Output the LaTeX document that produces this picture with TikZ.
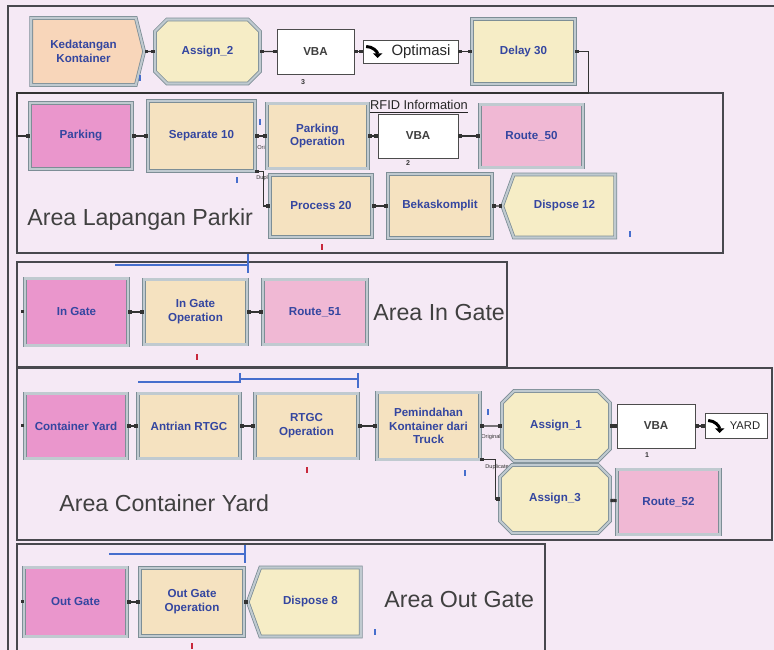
\documentclass[tikz,border=0pt]{standalone}
\usepackage{fontspec}
\setmainfont{Liberation Sans}
\usepackage{tikz}
\usetikzlibrary{calc, positioning, arrows.meta, shapes.misc, shapes.symbols}
\definecolor{Colfondo}{RGB}{245,233,245}
\definecolor{Colstn}{RGB}{234,150,204}
\definecolor{Colrte}{RGB}{240,184,212}
\definecolor{Colprc}{RGB}{245,226,192}
\definecolor{Colasg}{RGB}{246,237,198}
\definecolor{Colcrt}{RGB}{248,214,186}
\definecolor{Colbrd}{RGB}{125,142,150}
\definecolor{Colbrd2}{RGB}{192,202,208}
\definecolor{Coltxt}{RGB}{52,70,160}
\definecolor{Colarea}{RGB}{72,72,78}
\definecolor{Colblu}{RGB}{70,110,205}
\definecolor{Colred}{RGB}{200,40,60}

\begin{document}
\begin{tikzpicture}[
  mod/.style  ={rectangle, draw=Colbrd, line width=0.45pt,
                double=Colbrd2, double distance=1.2pt,
                minimum width=2.06cm, minimum height=1.30cm,
                align=center, text=Coltxt,
                font=\fontsize{6.6}{7.8}\selectfont\bfseries},
  stn/.style  ={mod, fill=Colstn},
  rte/.style  ={mod, fill=Colrte},
  prc/.style  ={mod, fill=Colprc},
  dly/.style  ={mod, fill=Colasg},
  asg/.style  ={mod, chamfered rectangle, chamfered rectangle sep=0.12cm,
                fill=Colasg},
  crt/.style  ={mod, signal, signal to=east, signal pointer angle=152,
                fill=Colcrt},
  dsp/.style  ={mod, signal, signal to=west, signal pointer angle=140,
                fill=Colasg},
  vba/.style  ={rectangle, draw=black!70, thin, fill=white,
                minimum width=1.56cm, minimum height=0.88cm,
                text=black!75, font=\fontsize{6.6}{7.8}\selectfont\bfseries},
  sta/.style  ={rectangle, draw=black!70, thin, fill=white,
                text=black!85, inner sep=0pt},
  lbl/.style  ={anchor=west, inner sep=0pt, text=black!75,
                font=\fontsize{13.2}{15}\selectfont},
  area/.style ={draw=Colarea, line width=0.8pt},
  con/.style  ={{Square[length=1.8pt,width=1.8pt]}-{Square[length=1.8pt,width=1.8pt]},
                semithick, color=black!80},
  icn/.style  ={line width=1.7pt, black, -{Triangle[length=2.6pt,width=5.2pt]}},
  blu/.style  ={draw=Colblu, line width=0.6pt},
  bmk/.style  ={rectangle, fill=Colblu, inner sep=0pt,
                minimum width=0.045cm, minimum height=0.12cm},
  rmk/.style  ={bmk, fill=Colred},
  ent/.style  ={rectangle, fill=black!80, inner sep=0pt, minimum size=0.06cm},
  num/.style  ={inner sep=0pt, text=black!80,
                font=\fontsize{4}{4}\selectfont\bfseries},
  tag/.style  ={anchor=west, inner sep=0pt, text=black!80,
                font=\fontsize{3.2}{3.2}\selectfont},
]

\path[use as bounding box, fill=Colfondo] (0,0) rectangle (15.48,13);

%% ═══════════════ Marcos ═══════════════
\draw[area] (0.16,0) -- (0.16,12.88) -- (15.48,12.88);
\draw[area] (0.34,7.94) rectangle (14.46,11.14);
\draw[area] (0.34,5.66) rectangle (10.14,7.76);
\draw[area] (0.34,2.20) rectangle (15.44,5.64);
\draw[area] (0.34,-0.10) |- (10.90,2.12) -- (10.90,-0.10);

%% ═══════════════ Kedatangan ═══════════════
\node[crt] (KK)  at (1.67, 11.97) [minimum width=2.26cm, minimum height=1.34cm]
  {Kedatangan\\Kontainer};
\node[asg] (A2)  at (4.15, 11.97) [minimum width=2.10cm, minimum height=1.28cm] {Assign\_2};
\node[vba] (V3)  at (6.31, 11.97) [minimum width=1.54cm, minimum height=0.90cm] {VBA};
\node[sta] (OP)  at (8.21, 11.97) [minimum width=1.90cm, minimum height=0.46cm,
  font=\fontsize{8.5}{9}\selectfont] {\hspace*{0.42cm}Optimasi};
\node[dly] (D30) at (10.47, 11.97) {Delay 30};

\draw[icn] ($(OP.west)+(0.07,0.10)$) to[out=0, in=90] ($(OP.west)+(0.30,-0.13)$);

\draw[con] (KK)  -- (A2);
\draw[con] (A2)  -- (V3);
\draw[con] (V3)  -- (OP);
\draw[con] (OP)  -- (D30);

\node[bmk] (mKK) at (2.80, 11.44) {};
\node[num] (nV3) at (6.06, 11.36) {3};

%% ═══════════════ Area Lapangan Parkir ═══════════════
\node[stn] (PK)  at (1.62, 10.28) [minimum width=2.04cm, minimum height=1.32cm] {Parking};
\node[tag] (tO1) at (5.14, 10.04) {Original};
\node[tag] (tD1) at (5.12, 9.44) {Duplicate};
\node[prc] (S10) at (4.03, 10.28) [minimum width=2.14cm, minimum height=1.40cm] {Separate 10};
\node[prc] (PO)  at (6.35, 10.28) [minimum width=2.02cm] {Parking\\Operation};
\node[vba] (V2)  at (8.36, 10.28) [minimum width=1.60cm] {VBA};
\node[rte] (R50) at (10.63, 10.28) [minimum height=1.26cm] {Route\_50};
\node[prc] (P20) at (6.42, 8.88) [minimum width=2.04cm, minimum height=1.24cm] {Process 20};
\node[prc] (BK)  at (8.80, 8.88) [minimum width=2.08cm, minimum height=1.28cm] {Bekaskomplit};
\node[dsp] (D12) at (11.29, 8.88) [minimum width=2.26cm, minimum height=1.26cm] {Dispose 12};

\node[font=\fontsize{7.3}{8}\selectfont, text=black!85, inner sep=0pt]
  (RF) at (8.38, 10.86) {\underline{RFID Information}};

\draw[con] (D30.east) -- ++(0.26,0) |- (0.34,11.14) |- (PK.west);
\draw[con] (PK)  -- (S10);
\draw[con] (S10) -- (PO);
\draw[con] (PO)  -- (V2);
\draw[con] (V2)  -- (R50);
\draw[con] (S10.south east) -- ++(0.16,0) |- (P20.west);
\draw[con] (P20) -- (BK);
\draw[con] (BK)  -- (D12);

\node[bmk] (mS1) at (5.20, 10.56) {};
\node[bmk] (mS2) at (4.74, 9.40) {};
\node[bmk] (mD1) at (12.60, 8.32) {};
\node[rmk] (mP1) at (6.44, 8.06) {};
\node[num] (nV2) at (8.16, 9.74) {2};

\node[lbl] (LP) at (0.54, 8.60) {Area Lapangan Parkir};

%% ═══════════════ Area In Gate ═══════════════
\node[stn] (IG)  at (1.53, 6.76) [minimum height=1.34cm] {In Gate};
\node[prc] (IGO) at (3.91, 6.76) {In Gate\\Operation};
\node[rte] (R51) at (6.30, 6.76) [minimum width=2.08cm] {Route\_51};
\node[ent] (eIG) at (0.44, 6.76) {};

\draw[con] (IG)  -- (IGO);
\draw[con] (IGO) -- (R51);

\draw[blu] (2.30,7.70) -- (4.96,7.70);
\draw[blu] (4.96,7.92) -- (4.96,7.54);
\node[rmk] (mIG) at (3.94, 5.86) {};

\node[lbl] (LI) at (7.46, 6.74) {Area In Gate};

%% ═══════════════ Area Container Yard ═══════════════
\node[stn] (CY)  at (1.52, 4.48) [minimum width=2.04cm] {Container Yard};
\node[prc] (AR)  at (3.78, 4.48) [minimum width=2.04cm] {Antrian RTGC};
\node[prc] (RO)  at (6.13, 4.48) {RTGC\\Operation};
\node[tag] (tO2) at (9.62, 4.26) {Original};
\node[tag] (tD2) at (9.70, 3.66) {Duplicate};
\node[prc] (PKT) at (8.57, 4.48) [minimum height=1.34cm] {Pemindahan\\Kontainer dari\\Truck};
\node[asg] (A1)  at (11.12, 4.48) [minimum width=2.16cm, minimum height=1.40cm] {Assign\_1};
\node[vba] (V1)  at (13.12, 4.48) {VBA};
\node[sta] (YD)  at (14.72, 4.48) [minimum width=1.24cm, minimum height=0.50cm,
  font=\fontsize{6.4}{7}\selectfont] {\hspace*{0.36cm}YARD};
\node[asg] (A3)  at (11.10, 3.02) [minimum width=2.20cm, minimum height=1.36cm] {Assign\_3};
\node[rte] (R52) at (13.37, 2.96) {Route\_52};
\node[ent] (eCY) at (0.44, 4.48) {};

\draw[icn] ($(YD.west)+(0.07,0.11)$) to[out=0, in=90] ($(YD.west)+(0.30,-0.14)$);

\draw[con] (CY)  -- (AR);
\draw[con] (AR)  -- (RO);
\draw[con] (RO)  -- (PKT);
\draw[con] (PKT) -- (A1);
\draw[con] (A1)  -- (V1);
\draw[con] (V1)  -- (YD);
\draw[con] (PKT.south east) -- ++(0.30,0) |- (A3.west);
\draw[con] (A3)  -- (R52);

\draw[blu] (2.76,5.36) -- (4.80,5.36);
\draw[blu] (4.80,5.42) -- (7.16,5.42);
\draw[blu] (4.80,5.54) -- (4.80,5.34);
\draw[blu] (7.16,5.54) -- (7.16,5.24);
\node[rmk] (mRO) at (6.14, 3.60) {};
\node[bmk] (mP1) at (9.76, 4.76) {};
\node[bmk] (mP2) at (9.30, 3.54) {};
\node[num] (nV1) at (12.94, 3.90) {1};

\node[lbl] (LC) at (1.18, 2.94) {Area Container Yard};

%% ═══════════════ Area Out Gate ═══════════════
\node[stn] (OG)  at (1.51, 0.96) [minimum height=1.38cm] {Out Gate};
\node[prc] (OGO) at (3.84, 0.96) [minimum width=2.08cm, minimum height=1.36cm] {Out Gate\\Operation};
\node[dsp] (D8)  at (6.21, 0.96) [minimum width=2.26cm, minimum height=1.38cm] {Dispose 8};
\node[ent] (eOG) at (0.44, 0.96) {};

\draw[con] (OG)  -- (OGO);
\draw[con] (OGO) -- (D8);

\draw[blu] (2.18,1.92) -- (4.90,1.92);
\draw[blu] (4.90,2.10) -- (4.90,1.74);
\node[rmk] (mOG) at (3.84, 0.08) {};
\node[bmk] (mD8) at (7.50, 0.36) {};

\node[lbl] (LO) at (7.68, 1.00) {Area Out Gate};

\end{tikzpicture}
\end{document}
